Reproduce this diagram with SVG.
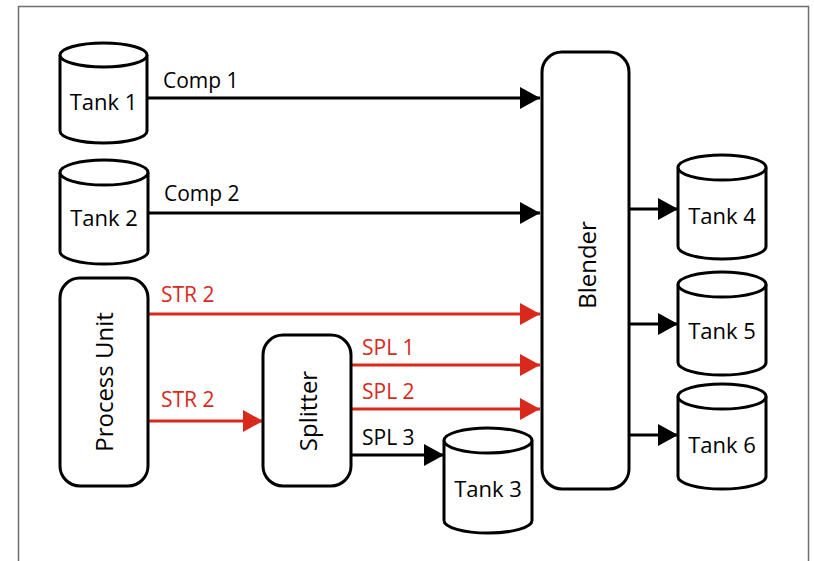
<svg xmlns="http://www.w3.org/2000/svg" width="814" height="561" viewBox="0 0 814 561">
<defs>
<style>
.frame{fill:none;stroke:#6e6e6e;stroke-width:1.5}
.shape{fill:#fff;stroke:#000;stroke-width:3}
.lbl{font-family:"Open Sans","Noto Sans",sans-serif;font-size:21px;fill:#000}
.tk{font-size:22px}
.red{fill:#d9291c}
.rot{font-family:"Open Sans","Noto Sans",sans-serif;font-size:24px;fill:#000;text-anchor:middle;dominant-baseline:central}
.mid{text-anchor:middle}
.cb{fill:none;stroke:#000;stroke-width:3}
.cr{fill:none;stroke:#d9291c;stroke-width:3}
</style>
<marker id="ab" markerUnits="userSpaceOnUse" markerWidth="20" markerHeight="22" refX="20" refY="11" orient="auto"><path d="M0,0 L20,11 L0,22 z" fill="#000"/></marker>
<marker id="ar" markerUnits="userSpaceOnUse" markerWidth="20" markerHeight="22" refX="20" refY="11" orient="auto"><path d="M0,0 L20,11 L0,22 z" fill="#d9291c"/></marker>
</defs>
<rect class="frame" x="18.5" y="6.5" width="790" height="600"/>
<g id="connectors">
<line class="cb" x1="147" y1="98" x2="540" y2="98" marker-end="url(#ab)"/>
<line class="cb" x1="148" y1="213" x2="540" y2="213" marker-end="url(#ab)"/>
<line class="cr" x1="148" y1="314" x2="540" y2="314" marker-end="url(#ar)"/>
<line class="cr" x1="148" y1="421" x2="263" y2="421" marker-end="url(#ar)"/>
<line class="cr" x1="351" y1="365" x2="540" y2="365" marker-end="url(#ar)"/>
<line class="cr" x1="351" y1="409" x2="540" y2="409" marker-end="url(#ar)"/>
<line class="cb" x1="351" y1="455" x2="444" y2="455" marker-end="url(#ab)"/>
<line class="cb" x1="629" y1="209" x2="678" y2="209" marker-end="url(#ab)"/>
<line class="cb" x1="629" y1="324" x2="678" y2="324" marker-end="url(#ab)"/>
<line class="cb" x1="629" y1="435" x2="678" y2="435" marker-end="url(#ab)"/>
<text class="lbl" x="163" y="88">Comp 1</text>
<text class="lbl" x="164" y="201">Comp 2</text>
<text class="lbl red" x="161" y="302">STR 2</text>
<text class="lbl red" x="161" y="407">STR 2</text>
<text class="lbl red" x="362" y="355">SPL 1</text>
<text class="lbl red" x="362" y="399">SPL 2</text>
<text class="lbl" x="362" y="445">SPL 3</text>
</g>
<g id="tank1">
<path class="shape" d="M60,55 L60,131 A43.5,12 0 0 0 147,131 L147,55"/>
<ellipse class="shape" cx="103.5" cy="55" rx="43.5" ry="12"/>
<text class="lbl tk mid" x="103.5" y="110">Tank 1</text>
</g>
<g id="tank2">
<path class="shape" d="M60,172.5 L60,251.5 A44,12.5 0 0 0 148,251.5 L148,172.5"/>
<ellipse class="shape" cx="104" cy="172.5" rx="44" ry="12.5"/>
<text class="lbl tk mid" x="104" y="226">Tank 2</text>
</g>
<g id="tank3">
<path class="shape" d="M444,440.5 L444,520.5 A44,12.5 0 0 0 532,520.5 L532,440.5"/>
<ellipse class="shape" cx="488" cy="440.5" rx="44" ry="12.5"/>
<text class="lbl tk mid" x="488" y="497">Tank 3</text>
</g>
<g id="tank4">
<path class="shape" d="M678,167.5 L678,246.5 A44,12.5 0 0 0 766,246.5 L766,167.5"/>
<ellipse class="shape" cx="722" cy="167.5" rx="44" ry="12.5"/>
<text class="lbl tk mid" x="722" y="224">Tank 4</text>
</g>
<g id="tank5">
<path class="shape" d="M678,284.5 L678,362.5 A44,12.5 0 0 0 766,362.5 L766,284.5"/>
<ellipse class="shape" cx="722" cy="284.5" rx="44" ry="12.5"/>
<text class="lbl tk mid" x="722" y="339">Tank 5</text>
</g>
<g id="tank6">
<path class="shape" d="M678,396.5 L678,476.5 A44,12.5 0 0 0 766,476.5 L766,396.5"/>
<ellipse class="shape" cx="722" cy="396.5" rx="44" ry="12.5"/>
<text class="lbl tk mid" x="722" y="453">Tank 6</text>
</g>
<g id="process-unit">
<rect class="shape" x="60" y="278" width="88" height="208" rx="20"/>
<text class="rot" transform="translate(103,382) rotate(-90)">Process Unit</text>
</g>
<g id="splitter">
<rect class="shape" x="263" y="335" width="88" height="151" rx="20"/>
<text class="rot" transform="translate(307,411) rotate(-90)">Splitter</text>
</g>
<g id="blender">
<rect class="shape" x="542" y="52" width="87" height="437" rx="20"/>
<text class="rot" transform="translate(586,265) rotate(-90)">Blender</text>
</g>
</svg>
